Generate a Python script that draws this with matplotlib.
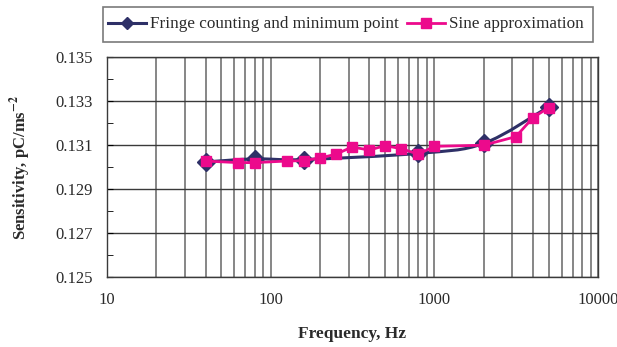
import numpy as np
import matplotlib
matplotlib.use('Agg')
import matplotlib.pyplot as plt
from matplotlib.path import Path
from matplotlib.patches import PathPatch, Rectangle
from matplotlib.ticker import FixedLocator, LogLocator, NullFormatter

plt.rcParams['font.family'] = ['Liberation Serif', 'DejaVu Serif']
plt.rcParams['mathtext.fontset'] = 'stix'

# Data
fringe_freq = [40, 80, 160, 800, 2000, 5000]
fringe_sens = [0.13023, 0.13037, 0.13034, 0.13062, 0.13107, 0.13274]

sine_freq = [40, 63, 80, 125, 160, 200, 250, 315, 400, 500, 630, 800,
             1000, 2000, 3150, 4000, 5000]
sine_sens = [0.13027, 0.13020, 0.13020, 0.13027, 0.13029, 0.13041, 0.13058,
             0.13091, 0.13077, 0.13097, 0.13083, 0.13058, 0.13094, 0.13099,
             0.13138, 0.13224, 0.13270]

y_ticks = [0.125, 0.127, 0.129, 0.131, 0.133, 0.135]
x_ticks = [10, 100, 1000, 10000]

navy = '#2E3067'
pink = '#EC0A8C'
txt = '#2a2a2a'

fig = plt.figure(figsize=(6.17, 3.47), dpi=100)
ax = fig.add_axes([107 / 617, 1 - 277 / 347, 491 / 617, 220 / 347])

ax.set_xscale('log')
ax.set_xlim(10, 10000)
ax.set_ylim(0.125, 0.135)

# smooth line like Excel (Catmull-Rom as bezier in log-x space)
lx = np.log10(fringe_freq)
ly = np.array(fringe_sens)
verts = [(lx[0], ly[0])]
codes = [Path.MOVETO]
n = len(lx)
for i in range(n - 1):
    p0 = (lx[max(i - 1, 0)], ly[max(i - 1, 0)])
    p1 = (lx[i], ly[i])
    p2 = (lx[i + 1], ly[i + 1])
    p3 = (lx[min(i + 2, n - 1)], ly[min(i + 2, n - 1)])
    c1 = (p1[0] + (p2[0] - p0[0]) / 6, p1[1] + (p2[1] - p0[1]) / 6)
    c2 = (p2[0] - (p3[0] - p1[0]) / 6, p2[1] - (p3[1] - p1[1]) / 6)
    verts += [c1, c2, p2]
    codes += [Path.CURVE4] * 3
verts = [(10 ** vx, vy) for vx, vy in verts]
ax.add_patch(PathPatch(Path(verts, codes), facecolor='none', edgecolor=navy,
                       lw=2.2, zorder=3))
ax.plot(fringe_freq, fringe_sens, linestyle='none', marker='D', markersize=9,
        color=navy, zorder=4)
fringe_handle = plt.Line2D([], [], color=navy, lw=2.2, marker='D', markersize=6)

ax.plot(sine_freq, sine_sens, color=pink, lw=2, marker='s', markersize=6.5,
        zorder=5, label='Sine approximation')

# grid
ax.xaxis.set_major_locator(FixedLocator(x_ticks))
ax.xaxis.set_minor_locator(LogLocator(base=10, subs=np.arange(2, 10)))
ax.xaxis.set_minor_formatter(NullFormatter())
ax.set_xticklabels([str(t) for t in x_ticks])
ax.set_yticks(y_ticks)
ax.set_yticks(np.arange(0.126, 0.1345, 0.002), minor=True)
ax.set_yticklabels([f'{t:.3f}' for t in y_ticks])
ax.grid(True, which='both', axis='x', color='#666666', lw=1.1)
ax.grid(True, which='major', axis='y', color='#3a3a3a', lw=1)
ax.set_axisbelow(True)

ax.tick_params(axis='x', which='both', length=0, pad=11, labelsize=12,
               labelcolor=txt)
ax.tick_params(axis='y', which='both', direction='in', length=4, pad=10,
               labelsize=12, labelcolor=txt)
for s in ax.spines.values():
    s.set_color('#3a3a3a')
    s.set_linewidth(1)

ax.set_xlabel('Frequency, Hz', fontweight='bold', fontsize=12.5, labelpad=13,
              color=txt)
ax.set_ylabel(r'Sensitivity, pC/ms$^{\mathbf{-2}}$', fontweight='bold',
              fontsize=12, labelpad=16, color=txt)

# legend box above the plot (taller frame than the legend's own padding)
fig.patches.append(Rectangle((103 / 617, 1 - 42 / 347), 490 / 617, 35 / 347,
                             transform=fig.transFigure, facecolor='white',
                             edgecolor='#7a7a7a', lw=1.2, zorder=0))
leg = fig.legend([fringe_handle, ax.lines[-1]],
                 ['Fringe counting and minimum point', 'Sine approximation'],
                 loc='center left', bbox_to_anchor=(103 / 617, 1 - 24.5 / 347),
                 ncol=2, fontsize=12.3, frameon=False,
                 handlelength=2.2, handletextpad=0.25, columnspacing=0.5,
                 borderpad=0.3, borderaxespad=0, labelcolor=txt)

fig.savefig('out.png', dpi=100)
